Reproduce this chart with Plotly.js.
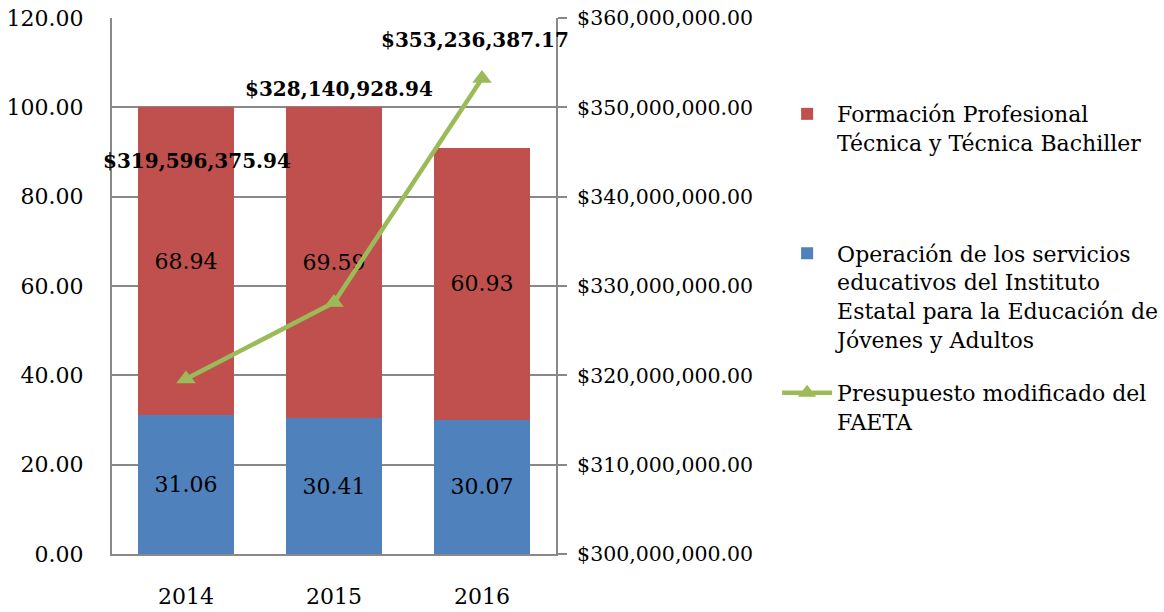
<!DOCTYPE html>
<html>
<head>
<meta charset="utf-8">
<script src="https://cdn.plot.ly/plotly-3.0.1.min.js"></script>
<style>body{margin:0;background:#fff}#chart{width:1164px;height:612px}</style>
</head>
<body>
<div id="chart"></div>
<script>
// Data
const years = [2014, 2015, 2016];
const operacion = [31.06, 30.41, 30.07];
const formacion = [68.94, 69.59, 60.93];
const presupuesto = [319596375.94, 328140928.94, 353236387.17];
const presupuestoLabels = ['$319,596,375.94', '$328,140,928.94', '$353,236,387.17'];
const labelShiftX = [11, 5, -7];
const labelShiftY = [218, 214, 38];

const font = 'DejaVu Serif, serif';
const pad = '\u00a0';

const blue = {
    x: years,
    y: operacion,
    type: 'bar',
    width: 0.65,
    name: 'Operación de los servicios<br>educativos del Instituto<br>Estatal para la Educación de<br>Jóvenes y Adultos',
    legendgroup: 'b',
    marker: { color: '#4F81BD' },
    text: operacion.map(v => v.toFixed(2)),
    textposition: 'inside',
    insidetextanchor: 'middle',
    textfont: { color: '#000', size: 22, family: font },
    legendrank: 2
};

const red = {
    x: years,
    y: formacion,
    type: 'bar',
    width: 0.65,
    // two blank lines keep the legend spacing of the original
    name: 'Formación Profesional<br>Técnica y Técnica Bachiller<br>' + pad + '<br>' + pad,
    legendgroup: 'a',
    marker: { color: '#C0504D' },
    text: formacion.map(v => v.toFixed(2)),
    textposition: 'inside',
    insidetextanchor: 'middle',
    textfont: { color: '#000', size: 22, family: font },
    legendrank: 1
};

const line = {
    x: years,
    y: presupuesto,
    yaxis: 'y2',
    type: 'scatter',
    mode: 'lines+markers',
    name: 'Presupuesto modificado del<br>FAETA',
    legendgroup: 'c',
    line: { color: '#9BBB59', width: 4.5 },
    marker: { symbol: 'triangle-up', size: 17, color: '#9BBB59' },
    legendrank: 3
};

const annotations = years.map((yr, i) => ({
    x: yr,
    y: presupuesto[i],
    xref: 'x',
    yref: 'y2',
    text: '<b>' + presupuestoLabels[i] + '</b>',
    showarrow: false,
    xshift: labelShiftX[i],
    yshift: labelShiftY[i],
    font: { family: font, size: 20, color: '#000' }
}));

const layout = {
    width: 1164,
    height: 612,
    margin: { l: 112, r: 608, t: 18, b: 58, autoexpand: false },
    paper_bgcolor: '#fff',
    plot_bgcolor: '#fff',
    font: { family: font, size: 22, color: '#000' },
    barmode: 'stack',
    showlegend: true,
    legend: {
        x: 1.498,
        y: 0.86,
        xanchor: 'left',
        yanchor: 'top',
        traceorder: 'grouped',
        valign: 'top',
        font: { family: font, size: 22, color: '#000' },
        tracegroupgap: 22,
        itemwidth: 50
    },
    xaxis: {
        range: [2013.5, 2016.5],
        tickvals: years,
        ticktext: years.map(String),
        showgrid: false,
        zeroline: false,
        showline: true,
        linecolor: '#888',
        linewidth: 2,
        ticks: '',
        ticklabelstandoff: 22,
        tickfont: { size: 22 }
    },
    yaxis: {
        range: [0, 120],
        dtick: 20,
        tickformat: '.2f',
        showgrid: true,
        gridcolor: '#888',
        gridwidth: 1.5,
        zeroline: false,
        showline: true,
        linecolor: '#888',
        linewidth: 2,
        ticks: '',
        ticklabelstandoff: 22,
        tickfont: { size: 22 }
    },
    yaxis2: {
        overlaying: 'y',
        side: 'right',
        range: [300000000, 360000000],
        dtick: 10000000,
        tickformat: '$,.2f',
        showgrid: false,
        zeroline: false,
        showline: true,
        linecolor: '#888',
        linewidth: 2,
        ticks: 'outside',
        ticklen: 9,
        tickcolor: '#888',
        tickwidth: 1.5,
        ticklabelstandoff: 6,
        tickfont: { size: 20.5 }
    },
    annotations: annotations
};

Plotly.newPlot('chart', [blue, red, line], layout, { displayModeBar: false });
</script>
</body>
</html>
